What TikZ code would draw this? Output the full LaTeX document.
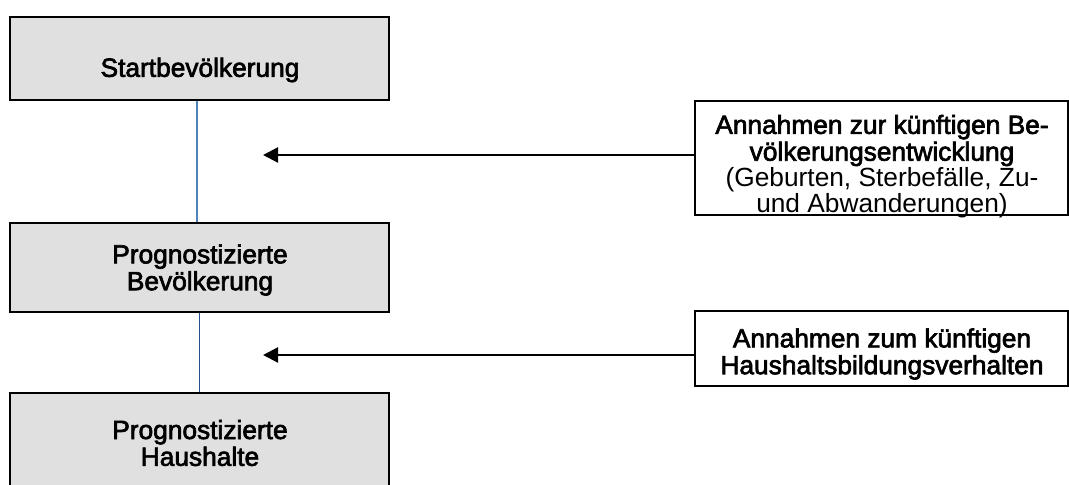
\documentclass[tikz,border=0pt]{standalone}
\usepackage{fontspec}
\setmainfont{Liberation Sans}
\newfontfamily\headfont{Liberation Sans}[FakeBold=2.5]
\usetikzlibrary{arrows.meta}
\definecolor{boxgray}{RGB}{224,224,224}
\definecolor{lineblueA}{RGB}{79,129,189}
\definecolor{lineblueB}{RGB}{36,80,140}
\begin{document}
\begin{tikzpicture}[x=1bp,y=-1bp,
  gbox/.style={draw=black,line width=2.2bp,fill=boxgray,rectangle,inner sep=0pt,minimum width=379bp},
  wbox/.style={draw=black,line width=2.2bp,fill=white,rectangle,inner sep=0pt,minimum width=373bp},
  btxt/.style={font=\headfont\fontsize{26.3bp}{26.8bp}\selectfont,align=center,inner sep=0pt},
  rtxt/.style={font=\fontsize{26.3bp}{26.3bp}\selectfont,align=center,inner sep=0pt},
  arr/.style={line width=2.2bp,-{Triangle[length=15bp,width=15bp]}},
  connA/.style={draw=lineblueA,line width=1.8bp},
  connB/.style={draw=lineblueB,line width=1.2bp}]
\useasboundingbox (0,0) rectangle (1069,485);
% left boxes
\node[gbox,minimum height=83bp] (b1) at (199.5,58.5) {};
\node[btxt] (t1) at (200,70) {Startbevölkerung};
\node[gbox,minimum height=89bp] (b2) at (199.5,267.5) {};
\node[btxt] (t2) at (200,270) {Prognostizierte\\Bevölkerung};
\node[gbox,minimum height=100bp] (b3) at (199.5,443) {};
\node[btxt] (t3) at (200,443) {Prognostizierte\\Haushalte};
% right boxes
\node[wbox,minimum height=114bp] (r1) at (881.5,158) {};
\node[btxt] (t4) at (882,140.5) {Annahmen zur künftigen Be-\\völkerungsentwicklung};
\node[rtxt] (t5) at (882,193) {(Geburten, Sterbefälle, Zu-\\und Abwanderungen)};
\node[wbox,minimum height=75bp] (r2) at (881.5,348.5) {};
\node[btxt] (t6) at (882,354) {Annahmen zum künftigen\\Haushaltsbildungsverhalten};
% connectors
\draw[connA] (b1.south -| 197,0) -- (b2.north -| 197,0);
\draw[connB] (b2.south -| 199.5,0) -- (b3.north -| 199.5,0);
\coordinate (a1e) at (263,155);
\coordinate (a2e) at (263,355);
\draw[arr] (r1.west |- a1e) -- (a1e);
\draw[arr] (r2.west |- a2e) -- (a2e);
\end{tikzpicture}
\end{document}
